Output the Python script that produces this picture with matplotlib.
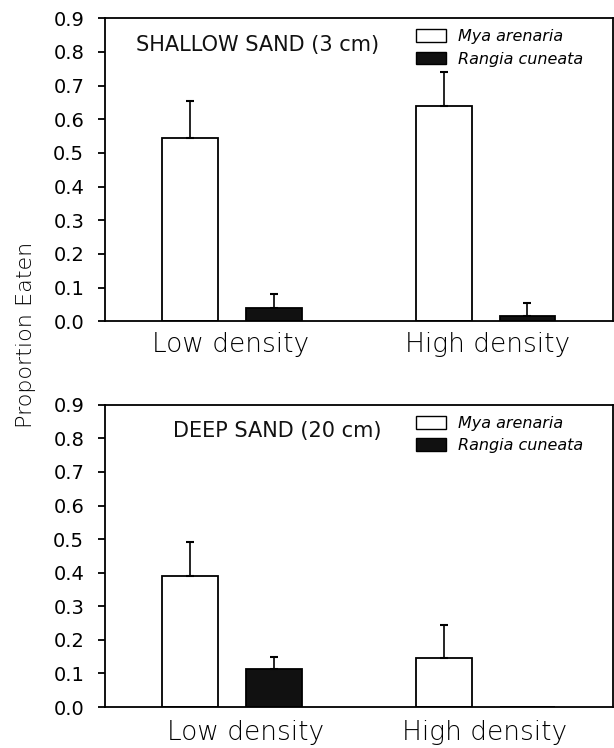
import numpy as np
import matplotlib.pyplot as plt
from matplotlib.patches import Patch

plt.rcParams['font.family'] = 'DejaVu Sans'

# data
groups = ['Low density', 'High density']
species = ['Mya arenaria', 'Rangia cuneata']

# shallow sand (3 cm)
shallow_mya = [0.545, 0.640]
shallow_mya_se = [0.110, 0.100]
shallow_rangia = [0.040, 0.015]
shallow_rangia_se = [0.040, 0.038]

# deep sand (20 cm)
deep_mya = [0.390, 0.145]
deep_mya_se = [0.100, 0.100]
deep_rangia = [0.113, 0.0]
deep_rangia_se = [0.037, 0.0]

panel_titles = ['SHALLOW SAND (3 cm)', 'DEEP SAND (20 cm)']

centers = np.array([2.5, 7.5])
offset = 0.82
width = 1.1

fig = plt.figure(figsize=(6.14, 7.48), dpi=100)
ax_top = fig.add_axes([0.171, 0.5705, 0.827, 0.405])
ax_bot = fig.add_axes([0.171, 0.0548, 0.827, 0.404])


def draw_panel(ax, mya, mya_se, rangia, rangia_se, title, title_x, label_pos, label_pad):
    x1 = centers - offset
    x2 = centers + offset
    ax.bar(x1, mya, width, color='white', edgecolor='black', linewidth=1.3, zorder=2)
    ax.bar(x2, rangia, width, color='#111111', edgecolor='black', linewidth=1.3, zorder=2)
    for xs, vals, errs in [(x1, mya, mya_se), (x2, rangia, rangia_se)]:
        for x, v, e in zip(xs, vals, errs):
            if e > 0:
                ax.errorbar(x, v, yerr=[[0], [e]], fmt='none', ecolor='black',
                            elinewidth=1.2, capsize=3, capthick=1.5, zorder=3)
    ax.set_xlim(0, 10)
    ax.set_ylim(0, 0.9)
    ax.set_yticks(np.arange(0, 0.91, 0.1))
    ax.set_yticklabels([f'{t:.1f}' for t in np.arange(0, 0.91, 0.1)], fontsize=14)
    # group labels sit slightly off the bar-pair centres in the original
    ax.set_xticks(label_pos)
    ax.set_xticklabels(groups, fontsize=19, fontweight='light', color='black')
    ax.tick_params(axis='x', length=0, pad=label_pad)
    ax.tick_params(axis='y', direction='out', length=5, width=1.3, pad=10)
    for sp in ax.spines.values():
        sp.set_linewidth(1.3)
    ax.text(title_x, 0.912, title, transform=ax.transAxes, fontsize=15,
            color='#111111', ha='left', va='center')
    handles = [Patch(facecolor='white', edgecolor='black', linewidth=1.0),
               Patch(facecolor='#111111', edgecolor='black', linewidth=1.0)]
    ax.legend(handles, species, loc='upper left', bbox_to_anchor=(0.597, 0.99),
              frameon=False, borderpad=0, handlelength=1.9, handleheight=0.85,
              handletextpad=0.75, labelspacing=0.45,
              prop={'style': 'italic', 'size': 11.5})


draw_panel(ax_top, shallow_mya, shallow_mya_se, shallow_rangia, shallow_rangia_se,
           panel_titles[0], 0.061, [2.48, 7.54], 8)
draw_panel(ax_bot, deep_mya, deep_mya_se, deep_rangia, deep_rangia_se,
           panel_titles[1], 0.134, [2.77, 7.48], 9)

fig.text(0.043, 0.552, 'Proportion Eaten', rotation=90, fontsize=16,
         fontweight='light', color='black', ha='center', va='center')

fig.savefig('out.png', dpi=100)
